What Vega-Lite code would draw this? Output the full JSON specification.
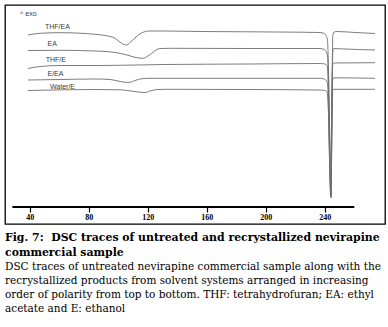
{
  "$schema": "https://vega.github.io/schema/vega-lite/v6.json",
  "width": 380,
  "height": 219,
  "autosize": {"type": "none"},
  "padding": {"left": 5, "top": 5, "right": 3, "bottom": 103},
  "background": "white",
  "config": {"view": {"stroke": "black", "strokeWidth": 1.3}},
  "title": {
    "text": ["Fig. 7:\u00a0 DSC traces of untreated and recrystallized nevirapine", "commercial sample"],
    "subtitle": ["DSC traces of untreated nevirapine commercial sample along with the", "recrystallized products from solvent systems arranged in increasing", "order of polarity from top to bottom. THF: tetrahydrofuran; EA: ethyl", "acetate and E: ethanol"],
    "orient": "bottom",
    "anchor": "start",
    "frame": "group",
    "offset": 8,
    "font": "DejaVu Serif",
    "fontSize": 10.9,
    "fontWeight": "bold",
    "color": "black",
    "lineHeight": 14.5,
    "subtitleFont": "DejaVu Serif",
    "subtitleFontSize": 10.5,
    "subtitleFontWeight": "normal",
    "subtitleColor": "black",
    "subtitleLineHeight": 14,
    "subtitlePadding": 5
  },
  "datasets": {
    "traces": [
      {"s": "THF/EA", "t": 38.8, "v": 18.9},
      {"s": "THF/EA", "t": 46.9, "v": 19.07},
      {"s": "THF/EA", "t": 60.5, "v": 19.13},
      {"s": "THF/EA", "t": 74.1, "v": 19.08},
      {"s": "THF/EA", "t": 84.2, "v": 18.97},
      {"s": "THF/EA", "t": 91.0, "v": 18.85},
      {"s": "THF/EA", "t": 97.8, "v": 18.57},
      {"s": "THF/EA", "t": 101.9, "v": 18.1},
      {"s": "THF/EA", "t": 105.7, "v": 17.9},
      {"s": "THF/EA", "t": 108.6, "v": 18.25},
      {"s": "THF/EA", "t": 111.3, "v": 18.6},
      {"s": "THF/EA", "t": 114.1, "v": 18.95},
      {"s": "THF/EA", "t": 116.8, "v": 19.17},
      {"s": "THF/EA", "t": 120.2, "v": 19.3},
      {"s": "THF/EA", "t": 129.6, "v": 19.3},
      {"s": "THF/EA", "t": 155.4, "v": 19.25},
      {"s": "THF/EA", "t": 189.3, "v": 19.22},
      {"s": "THF/EA", "t": 223.2, "v": 19.18},
      {"s": "THF/EA", "t": 236.8, "v": 19.15},
      {"s": "THF/EA", "t": 239.5, "v": 19.05},
      {"s": "THF/EA", "t": 240.8, "v": 18.85},
      {"s": "THF/EA", "t": 241.8, "v": 18.4},
      {"s": "THF/EA", "t": 242.5, "v": 15.4},
      {"s": "THF/EA", "t": 243.5, "v": 7.4},
      {"s": "THF/EA", "t": 244.2, "v": 2.6},
      {"s": "THF/EA", "t": 244.6, "v": 7.4},
      {"s": "THF/EA", "t": 245.1, "v": 16.4},
      {"s": "THF/EA", "t": 245.4, "v": 18.8},
      {"s": "THF/EA", "t": 246.2, "v": 19.2},
      {"s": "THF/EA", "t": 248.3, "v": 19.25},
      {"s": "THF/EA", "t": 260.5, "v": 19.15},
      {"s": "THF/EA", "t": 274.0, "v": 19.05},

      {"s": "EA", "t": 38.8, "v": 17.35},
      {"s": "EA", "t": 60.5, "v": 17.37},
      {"s": "EA", "t": 84.2, "v": 17.3},
      {"s": "EA", "t": 97.8, "v": 17.15},
      {"s": "EA", "t": 104.6, "v": 16.95},
      {"s": "EA", "t": 110.0, "v": 16.72},
      {"s": "EA", "t": 114.1, "v": 16.6},
      {"s": "EA", "t": 117.0, "v": 16.57},
      {"s": "EA", "t": 119.5, "v": 16.75},
      {"s": "EA", "t": 122.7, "v": 17.07},
      {"s": "EA", "t": 125.6, "v": 17.4},
      {"s": "EA", "t": 128.3, "v": 17.55},
      {"s": "EA", "t": 135.1, "v": 17.57},
      {"s": "EA", "t": 189.3, "v": 17.55},
      {"s": "EA", "t": 236.8, "v": 17.55},
      {"s": "EA", "t": 239.5, "v": 17.45},
      {"s": "EA", "t": 240.8, "v": 17.25},
      {"s": "EA", "t": 241.8, "v": 16.8},
      {"s": "EA", "t": 242.5, "v": 14.4},
      {"s": "EA", "t": 243.5, "v": 6.4},
      {"s": "EA", "t": 244.2, "v": 2.8},
      {"s": "EA", "t": 244.5, "v": 6.4},
      {"s": "EA", "t": 245.1, "v": 14.4},
      {"s": "EA", "t": 245.4, "v": 17.2},
      {"s": "EA", "t": 246.2, "v": 17.55},
      {"s": "EA", "t": 250.3, "v": 17.52},
      {"s": "EA", "t": 274.0, "v": 17.4},

      {"s": "THF/E", "t": 38.8, "v": 15.55},
      {"s": "THF/E", "t": 46.9, "v": 15.75},
      {"s": "THF/E", "t": 60.5, "v": 15.85},
      {"s": "THF/E", "t": 87.6, "v": 15.85},
      {"s": "THF/E", "t": 131.7, "v": 15.95},
      {"s": "THF/E", "t": 189.3, "v": 16.0},
      {"s": "THF/E", "t": 236.8, "v": 16.05},
      {"s": "THF/E", "t": 240.1, "v": 16.0},
      {"s": "THF/E", "t": 241.5, "v": 15.85},
      {"s": "THF/E", "t": 242.2, "v": 14.4},
      {"s": "THF/E", "t": 243.2, "v": 7.4},
      {"s": "THF/E", "t": 244.0, "v": 3.0},
      {"s": "THF/E", "t": 244.4, "v": 7.4},
      {"s": "THF/E", "t": 244.9, "v": 14.4},
      {"s": "THF/E", "t": 245.3, "v": 15.9},
      {"s": "THF/E", "t": 246.2, "v": 16.1},
      {"s": "THF/E", "t": 274.0, "v": 16.13},

      {"s": "E/EA", "t": 38.8, "v": 14.4},
      {"s": "E/EA", "t": 60.5, "v": 14.45},
      {"s": "E/EA", "t": 84.2, "v": 14.5},
      {"s": "E/EA", "t": 94.4, "v": 14.45},
      {"s": "E/EA", "t": 99.8, "v": 14.3},
      {"s": "E/EA", "t": 104.6, "v": 14.17},
      {"s": "E/EA", "t": 108.0, "v": 14.17},
      {"s": "E/EA", "t": 111.3, "v": 14.35},
      {"s": "E/EA", "t": 116.1, "v": 14.53},
      {"s": "E/EA", "t": 121.5, "v": 14.57},
      {"s": "E/EA", "t": 189.3, "v": 14.57},
      {"s": "E/EA", "t": 236.8, "v": 14.57},
      {"s": "E/EA", "t": 239.5, "v": 14.5},
      {"s": "E/EA", "t": 241.2, "v": 14.3},
      {"s": "E/EA", "t": 242.0, "v": 13.8},
      {"s": "E/EA", "t": 242.9, "v": 8.4},
      {"s": "E/EA", "t": 243.9, "v": 2.9},
      {"s": "E/EA", "t": 244.4, "v": 8.4},
      {"s": "E/EA", "t": 245.0, "v": 13.8},
      {"s": "E/EA", "t": 245.4, "v": 14.5},
      {"s": "E/EA", "t": 246.2, "v": 14.62},
      {"s": "E/EA", "t": 274.0, "v": 14.57},

      {"s": "Water/E", "t": 38.8, "v": 13.35},
      {"s": "Water/E", "t": 84.2, "v": 13.45},
      {"s": "Water/E", "t": 101.2, "v": 13.42},
      {"s": "Water/E", "t": 110.0, "v": 13.27},
      {"s": "Water/E", "t": 114.7, "v": 13.18},
      {"s": "Water/E", "t": 118.1, "v": 13.15},
      {"s": "Water/E", "t": 121.5, "v": 13.3},
      {"s": "Water/E", "t": 126.3, "v": 13.45},
      {"s": "Water/E", "t": 131.7, "v": 13.47},
      {"s": "Water/E", "t": 189.3, "v": 13.45},
      {"s": "Water/E", "t": 236.8, "v": 13.4},
      {"s": "Water/E", "t": 240.1, "v": 13.35},
      {"s": "Water/E", "t": 241.5, "v": 13.2},
      {"s": "Water/E", "t": 242.4, "v": 11.4},
      {"s": "Water/E", "t": 243.4, "v": 5.4},
      {"s": "Water/E", "t": 244.2, "v": 2.7},
      {"s": "Water/E", "t": 244.5, "v": 5.4},
      {"s": "Water/E", "t": 245.1, "v": 11.9},
      {"s": "Water/E", "t": 245.4, "v": 13.4},
      {"s": "Water/E", "t": 246.2, "v": 13.47},
      {"s": "Water/E", "t": 274.0, "v": 13.47}
    ],
    "labels": [
      {"label": "^ exo", "t": 33.4, "v": 21.0},
      {"label": "THF/EA", "t": 50.3, "v": 19.7},
      {"label": "EA", "t": 52.0, "v": 18.05},
      {"label": "THF/E", "t": 50.8, "v": 16.4},
      {"label": "E/EA", "t": 52.0, "v": 15.05},
      {"label": "Water/E", "t": 53.7, "v": 13.75}
    ],
    "axisline": [
      {"t": 28.2, "t2": 260.0, "v": 1.7}
    ]
  },
  "layer": [
    {
      "data": {"name": "traces"},
      "mark": {"type": "line", "color": "#6e6e6e", "strokeWidth": 0.9, "interpolate": "monotone"},
      "encoding": {
        "x": {
          "field": "t",
          "type": "quantitative",
          "scale": {"domain": [23.2, 280.8], "nice": false, "zero": false},
          "axis": {
            "values": [40, 80, 120, 160, 200, 240],
            "domain": false,
            "grid": false,
            "offset": -17,
            "tickColor": "black",
            "tickSize": 5,
            "tickWidth": 1.2,
            "labelFont": "Liberation Serif",
            "labelFontWeight": "bold",
            "labelFontSize": 8,
            "labelColor": "black",
            "labelPadding": 1,
            "title": null
          }
        },
        "y": {
          "field": "v",
          "type": "quantitative",
          "scale": {"domain": [0, 21.9], "nice": false, "zero": false},
          "axis": null
        },
        "detail": {"field": "s", "type": "nominal"}
      }
    },
    {
      "data": {"name": "axisline"},
      "mark": {"type": "rule", "color": "black", "strokeWidth": 2.2},
      "encoding": {
        "x": {"field": "t", "type": "quantitative"},
        "x2": {"field": "t2"},
        "y": {"field": "v", "type": "quantitative"}
      }
    },
    {
      "data": {"name": "labels"},
      "mark": {"type": "text", "align": "left", "baseline": "middle", "font": "Liberation Sans", "fontSize": 7, "color": "#3a3a3a"},
      "encoding": {
        "x": {"field": "t", "type": "quantitative"},
        "y": {"field": "v", "type": "quantitative"},
        "text": {"field": "label", "type": "nominal"}
      }
    }
  ]
}
